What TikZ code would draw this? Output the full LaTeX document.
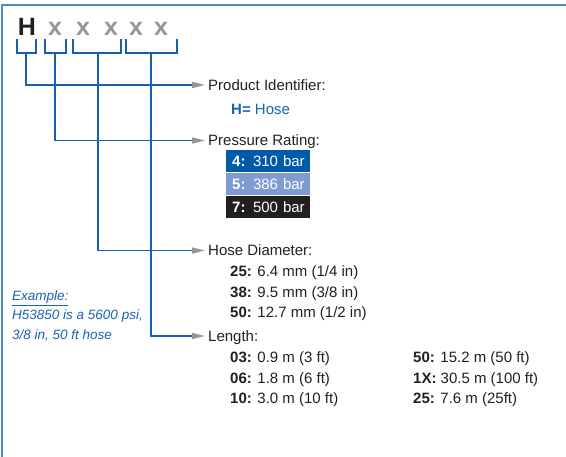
\documentclass[tikz,border=0pt]{standalone}
\usepackage{fontspec}
\setmainfont{Liberation Sans}
\usetikzlibrary{arrows.meta}
\definecolor{framec}{RGB}{74,140,204}
\definecolor{linec}{RGB}{22,96,176}
\definecolor{txtblue}{RGB}{26,98,178}
\definecolor{darkbox}{RGB}{0,90,170}
\definecolor{lightbox}{RGB}{128,154,210}
\definecolor{blackbox}{RGB}{35,31,32}
\definecolor{tipgray}{RGB}{150,150,150}
\definecolor{xgray}{RGB}{150,150,150}
\definecolor{ink}{RGB}{35,31,32}
\begin{document}
\begin{tikzpicture}[x=1pt,y=-1pt,
  conn/.style={draw=linec, line width=1.6pt},
  arr/.style={conn, -{Triangle[length=13pt,width=6pt,color=tipgray]}},
  txt/.style={anchor=west, inner ysep=0pt, inner xsep=0pt, text height=10.7pt, text depth=0pt,
              font=\fontsize{15}{18}\selectfont, text=ink},
  lbl/.style={txt, inner xsep=3pt},
  bigH/.style={anchor=base, inner sep=0pt, font=\fontsize{25}{30}\selectfont\bfseries, text=ink},
  bigx/.style={bigH, text=xgray},
  prbox/.style={txt, anchor=west, minimum height=22pt, text width=72pt, align=left, inner xsep=6pt, text=white},
  example/.style={anchor=west, inner sep=0pt, text height=9.7pt, text depth=0pt,
              font=\fontsize{13.5}{16}\selectfont\itshape, text=txtblue}
]
\useasboundingbox (0,0) rectangle (566,457);
% frame
\draw[framec, line width=2pt] (566,5.5) -- (2,5.5) -- (2,457);

% code letters
\node[bigH] (h)  at (27,36) {H};
\node[bigx] (x1) at (55,36) {x};
\node[bigx] (x2) at (83,36) {x};
\node[bigx] (x3) at (111,36) {x};
\node[bigx] (x4) at (136,36) {x};
\node[bigx] (x5) at (161,36) {x};

% brackets
\draw[conn] (17,39) -- (17,53) -- (36,53) -- (36,39);
\draw[conn] (45,39) -- (45,53) -- (66,53) -- (66,39);
\draw[conn] (73,39) -- (73,53) -- (121,53) -- (121,39);
\draw[conn] (126,39) -- (126,53) -- (177,53) -- (177,39);
\coordinate (s1) at (26,53);
\coordinate (s2) at (55,53);
\coordinate (s3) at (98,53);
\coordinate (s4) at (151,53);

% labels
\node[lbl] (pid) at (205,85) {Product Identifier:};
\node[txt, text=txtblue] (hose) at (231,109) {\textbf{H=} Hose};
\node[lbl] (pr) at (205,140.5) {Pressure Rating:};
\node[prbox, fill=darkbox]  (p4) at (226,161) {\mbox{\textbf{4:} 310 bar}};
\node[prbox, fill=lightbox] (p5) at (226,184) {\mbox{\textbf{5:} 386 bar}};
\node[prbox, fill=blackbox] (p7) at (226,207.5) {\mbox{\textbf{7:} 500 bar}};
\node[lbl] (hd) at (205,250.5) {Hose Diameter:};
\node[txt] (d25) at (230,271) {\textbf{25:} 6.4 mm (1/4 in)};
\node[txt] (d38) at (230,292) {\textbf{38:} 9.5 mm (3/8 in)};
\node[txt] (d50) at (230,312) {\textbf{50:} 12.7 mm (1/2 in)};
\node[lbl] (len) at (205,336) {Length:};
\node[txt] (l03) at (230,357) {\textbf{03:} 0.9 m (3 ft)};
\node[txt] (l06) at (230,378) {\textbf{06:} 1.8 m (6 ft)};
\node[txt] (l10) at (230,398) {\textbf{10:} 3.0 m (10 ft)};
\node[txt] (l50) at (413,357) {\textbf{50:} 15.2 m (50 ft)};
\node[txt] (l1x) at (413,378) {\textbf{1X:} 30.5 m (100 ft)};
\node[txt] (l25) at (413,398) {\textbf{25:} 7.6 m (25ft)};

% example
\node[example] (ex1) at (12,296) {\underline{Example:}};
\node[example] (ex2) at (12,315) {H53850 is a 5600 psi,};
\node[example] (ex3) at (12,334.5) {3/8 in, 50 ft hose};

% connectors
\draw[arr] (s1) |- (pid.west);
\draw[arr] (s2) |- (pr.west);
\draw[arr] (s3) |- (hd.west);
\draw[arr] (s4) |- (len.west);
\end{tikzpicture}
\end{document}
